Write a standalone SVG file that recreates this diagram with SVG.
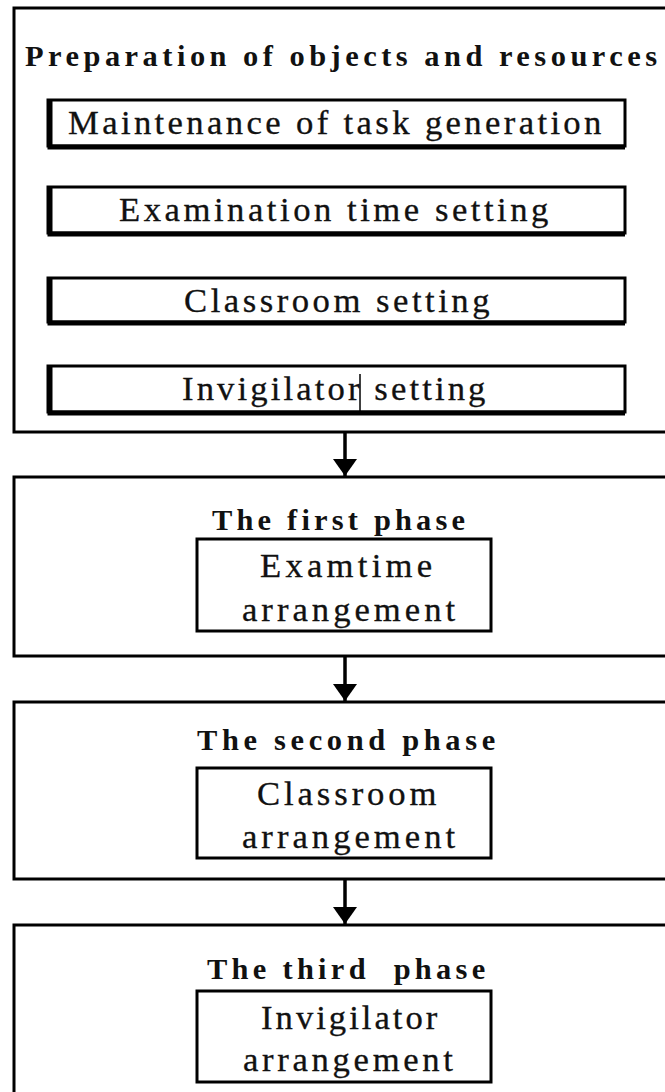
<svg xmlns="http://www.w3.org/2000/svg" width="665" height="1092" viewBox="0 0 665 1092">
<style>
.outer{fill:none;stroke:#000;stroke-width:3}
.inner{fill:#fff;stroke:#000;stroke-width:3}
.hd{font-family:"Liberation Serif","Times New Roman",serif;font-weight:bold;font-size:29px;fill:#111}
.tx{font-family:"Liberation Serif","Times New Roman",serif;font-size:33px;fill:#111;stroke:#111;stroke-width:0.3}
.conn{stroke:#000;stroke-width:3.5;fill:none}
</style>
<defs>
<marker id="ah" markerUnits="userSpaceOnUse" markerWidth="26" markerHeight="18" refX="12" refY="17" orient="0" viewBox="0 0 26 18">
<path d="M0,0 L24,0 L12,17 Z" fill="#000"/>
</marker>
</defs>
<rect width="665" height="1092" fill="#fff"/>

<g id="prep">
<rect class="outer" x="14" y="8" width="680" height="424"/>
<text class="hd" transform="translate(25,66) scale(1.05,1)" textLength="602">Preparation of objects and resources</text>
</g>

<g id="task-generation">
<rect class="inner" x="48" y="100" width="577" height="46"/>
<path d="M50,100 V147 H625" stroke="#000" stroke-width="5" fill="none"/>
<text class="tx" transform="translate(68,134) scale(1.05,1)" textLength="508">Maintenance of task generation</text>
</g>
<g id="exam-time-setting">
<rect class="inner" x="48" y="187" width="577" height="46"/>
<path d="M50,187 V234 H625" stroke="#000" stroke-width="5" fill="none"/>
<text class="tx" transform="translate(119,221) scale(1.05,1)" textLength="409">Examination time setting</text>
</g>
<g id="classroom-setting">
<rect class="inner" x="48" y="278" width="577" height="44"/>
<path d="M50,278 V323 H625" stroke="#000" stroke-width="5" fill="none"/>
<text class="tx" transform="translate(184,312) scale(1.05,1)" textLength="291">Classroom setting</text>
</g>
<g id="invigilator-setting">
<rect class="inner" x="48" y="366" width="577" height="46"/>
<path d="M50,366 V413 H625" stroke="#000" stroke-width="5" fill="none"/>
<text class="tx" transform="translate(182,400) scale(1.05,1)" textLength="289">Invigilator setting</text>
<line x1="360" y1="374" x2="360" y2="412" stroke="#000" stroke-width="1.5"/>
</g>

<g id="phase1">
<rect class="outer" x="14" y="477" width="680" height="179"/>
<text class="hd" transform="translate(212,530) scale(1.05,1)" textLength="241">The first phase</text>
<rect class="inner" x="197" y="539" width="294" height="92"/>
<text class="tx" transform="translate(260,577) scale(1.05,1)" textLength="164">Examtime</text>
<text class="tx" transform="translate(242,621) scale(1.05,1)" textLength="203">arrangement</text>
</g>

<g id="phase2">
<rect class="outer" x="14" y="702" width="680" height="177"/>
<text class="hd" transform="translate(197,750) scale(1.05,1)" textLength="284">The second phase</text>
<rect class="inner" x="197" y="768" width="294" height="90"/>
<text class="tx" transform="translate(257,805) scale(1.05,1)" textLength="171">Classroom</text>
<text class="tx" transform="translate(242,848) scale(1.05,1)" textLength="203">arrangement</text>
</g>

<g id="phase3">
<rect class="outer" x="14" y="925" width="680" height="200"/>
<text class="hd" transform="translate(207,979) scale(1.05,1)" textLength="265" xml:space="preserve">The third  phase</text>
<rect class="inner" x="197" y="991" width="294" height="91"/>
<text class="tx" transform="translate(261,1029) scale(1.05,1)" textLength="168">Invigilator</text>
<text class="tx" transform="translate(243,1071) scale(1.05,1)" textLength="200">arrangement</text>
</g>

<g id="connectors">
<line class="conn" x1="345" y1="433" x2="345" y2="476" marker-end="url(#ah)"/>
<line class="conn" x1="345" y1="657" x2="345" y2="701" marker-end="url(#ah)"/>
<line class="conn" x1="345" y1="880" x2="345" y2="924" marker-end="url(#ah)"/>
</g>
</svg>
